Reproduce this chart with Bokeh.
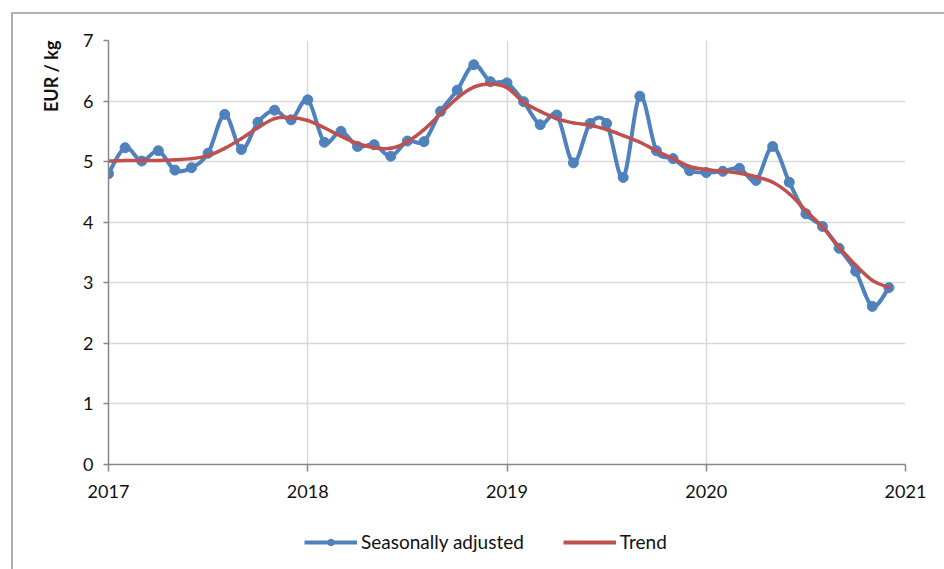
import numpy as np
from bokeh.plotting import figure
from bokeh.layouts import column
from bokeh.models import (ColumnDataSource, Legend, LegendItem, Title,
                          FixedTicker, Range1d)
from bokeh.embed import file_html
from bokeh.resources import INLINE

years = [2017, 2018, 2019, 2020]
months = list(range(1, 13))
x_ticks = [2017, 2018, 2019, 2020, 2021]
y_ticks = [0, 1, 2, 3, 4, 5, 6, 7]

seasonally_adjusted = [
    4.80, 5.23, 5.01, 5.18, 4.86, 4.90, 5.14, 5.78, 5.20, 5.65, 5.85, 5.69,
    6.02, 5.32, 5.50, 5.25, 5.28, 5.09, 5.34, 5.33, 5.83, 6.18, 6.60, 6.32,
    6.30, 5.99, 5.61, 5.77, 4.98, 5.63, 5.63, 4.74, 6.08, 5.18, 5.05, 4.85,
    4.82, 4.84, 4.89, 4.69, 5.25, 4.66, 4.14, 3.93, 3.57, 3.19, 2.61, 2.92,
]
trend = [
    5.01, 5.02, 5.02, 5.02, 5.03, 5.05, 5.10, 5.22, 5.38, 5.56, 5.71, 5.73,
    5.68, 5.56, 5.42, 5.30, 5.23, 5.22, 5.33, 5.53, 5.79, 6.05, 6.23, 6.28,
    6.22, 5.98, 5.83, 5.71, 5.64, 5.60, 5.53, 5.43, 5.32, 5.18, 5.05, 4.92,
    4.87, 4.84, 4.81, 4.75, 4.66, 4.47, 4.19, 3.92, 3.59, 3.29, 3.04, 2.92,
]

x = [yr + (m - 1) / 12 for yr in years for m in months]

BLUE = "#4f81bd"
RED = "#c0504d"
TXT = "#111111"


def smooth_segments(xs, ys):
    n = len(xs)
    d = dict(x0=[], y0=[], x1=[], y1=[], cx0=[], cy0=[], cx1=[], cy1=[])
    for i in range(n - 1):
        a = max(i - 1, 0)
        b = min(i + 2, n - 1)
        d["x0"].append(xs[i]); d["y0"].append(ys[i])
        d["x1"].append(xs[i + 1]); d["y1"].append(ys[i + 1])
        d["cx0"].append(xs[i] + (xs[i + 1] - xs[a]) / 6)
        d["cy0"].append(ys[i] + (ys[i + 1] - ys[a]) / 6)
        d["cx1"].append(xs[i + 1] - (xs[b] - xs[i]) / 6)
        d["cy1"].append(ys[i + 1] - (ys[b] - ys[i]) / 6)
    return ColumnDataSource(d)


p = figure(width=931, height=501, x_range=Range1d(2017, 2021), y_range=Range1d(0, 7),
           output_backend="svg", toolbar_location=None,
           min_border_left=95, min_border_right=39, min_border_top=26, min_border_bottom=51)
p.outline_line_color = None
p.background_fill_color = "white"
p.border_fill_color = "white"

for ax in (p.xaxis[0], p.yaxis[0]):
    ax.axis_line_color = "#868686"
    ax.axis_line_width = 1.5
    ax.major_tick_line_color = "#868686"
    ax.major_tick_line_width = 1.5
    ax.major_tick_in = 0
    ax.minor_tick_line_color = None
    ax.major_label_text_font = "Lato"
    ax.major_label_text_font_size = "18px"
    ax.major_label_text_color = TXT

p.xaxis.ticker = FixedTicker(ticks=x_ticks)
p.yaxis.ticker = FixedTicker(ticks=y_ticks)
p.xaxis.major_tick_out = 7
p.yaxis.major_tick_out = 5
p.xaxis.major_label_standoff = 13
p.yaxis.major_label_standoff = 10

p.xgrid.ticker = FixedTicker(ticks=x_ticks)
p.ygrid.ticker = FixedTicker(ticks=y_ticks)
for g in (p.xgrid[0], p.ygrid[0]):
    g.grid_line_color = "#d9d9d9"
    g.grid_line_width = 1.5

sa_src = smooth_segments(x, seasonally_adjusted)
tr_src = smooth_segments(x, trend)

p.bezier(x0="x0", y0="y0", x1="x1", y1="y1", cx0="cx0", cy0="cy0",
         cx1="cx1", cy1="cy1", source=sa_src, line_color=BLUE,
         line_width=4, line_cap="round", line_join="round")
p.scatter(x, seasonally_adjusted, size=10, fill_color=BLUE, line_color=BLUE)
p.bezier(x0="x0", y0="y0", x1="x1", y1="y1", cx0="cx0", cy0="cy0",
         cx1="cx1", cy1="cy1", source=tr_src, line_color=RED,
         line_width=3.5, line_cap="round", line_join="round")

p.add_layout(Title(text="EUR / kg", align="right", text_font="Lato",
                   text_font_style="bold", text_font_size="18px",
                   text_color=TXT, standoff=37), "left")

# legend strip below the chart
leg = figure(width=931, height=54, x_range=Range1d(0, 1), y_range=Range1d(0, 1),
             output_backend="svg", toolbar_location=None, x_axis_type=None,
             y_axis_type=None, min_border=0)
leg.outline_line_color = None
leg.background_fill_color = "white"
leg.border_fill_color = "white"
sa_leg_line = leg.line([np.nan, np.nan], [np.nan, np.nan], line_color=BLUE, line_width=4)
sa_leg_pt = leg.scatter([np.nan], [np.nan], size=11, fill_color=BLUE, line_color=BLUE)
tr_leg_line = leg.line([np.nan, np.nan], [np.nan, np.nan], line_color=RED, line_width=4)

legend = Legend(items=[LegendItem(label="Seasonally adjusted", renderers=[sa_leg_line, sa_leg_pt]),
                       LegendItem(label="Trend", renderers=[tr_leg_line])],
                orientation="horizontal", location=(196, 16),
                glyph_width=53, glyph_height=16, label_text_font="Lato",
                label_text_font_size="19px", label_text_color=TXT,
                spacing=39, label_standoff=4, padding=4, margin=0,
                border_line_color=None, background_fill_alpha=0)
leg.add_layout(legend, "center")

layout = column(p, leg, spacing=0, margin=(12, 0, 0, 11),
                styles={"border-top": "2px solid #b0b0b0", "border-left": "2px solid #b0b0b0"})

open("out.html", "w").write(file_html(layout, INLINE))
